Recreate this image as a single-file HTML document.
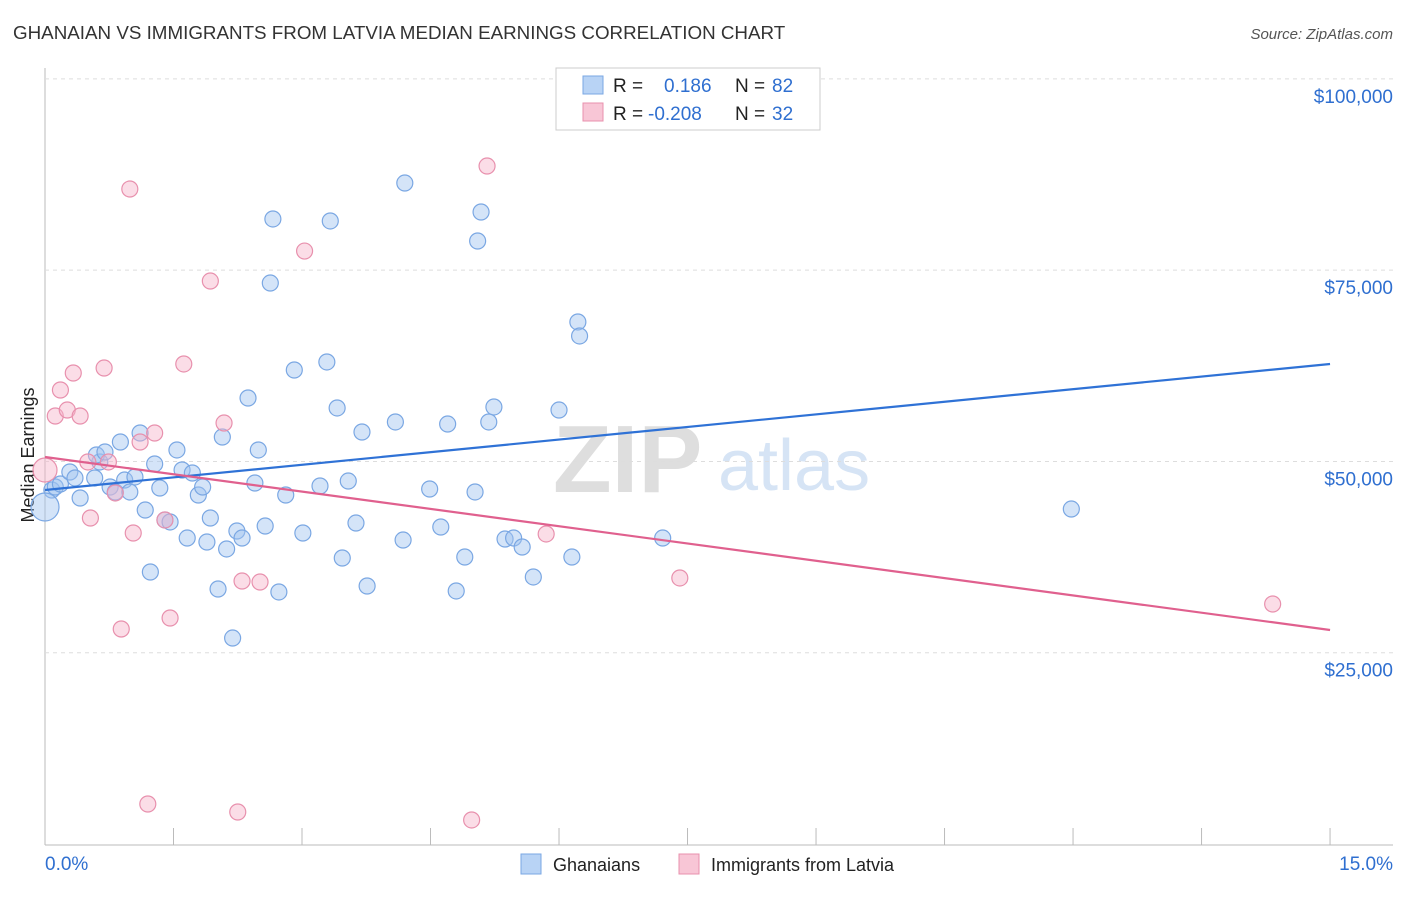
<!DOCTYPE html>
<html><head><meta charset="utf-8"><style>
body{margin:0;background:#fff;font-family:"Liberation Sans",sans-serif;}
svg text{font-family:"Liberation Sans",sans-serif;}
</style></head><body>
<svg id="chart" width="1406" height="892">
<text x="13" y="39" font-size="18.8" fill="#333">GHANAIAN VS IMMIGRANTS FROM LATVIA MEDIAN EARNINGS CORRELATION CHART</text>
<text x="1393" y="39" font-size="15" fill="#555" font-style="italic" text-anchor="end">Source: ZipAtlas.com</text>
<text x="553" y="492" font-size="96" fill="#dedede" font-family="Liberation Serif" font-weight="bold">ZIP</text>
<text x="718" y="490" font-size="72" fill="#d6e4f5">atlas</text>
<text x="34" y="455" font-size="18" fill="#222" text-anchor="middle" transform="rotate(-90 34 455)">Median Earnings</text>
<g id="grid"></g><g id="pts"></g><g id="lines"></g>
<g>
<rect x="556" y="68" width="264" height="62" fill="#fff" stroke="#ccc"/>
<rect x="583" y="76" width="20" height="18" fill="#b8d3f5" stroke="#7aa7e3"/>
<text x="613" y="92" font-size="19" fill="#222">R =</text><text x="664" y="92" font-size="19" fill="#2f6fd0">0.186</text>
<text x="735" y="92" font-size="19" fill="#222">N =</text><text x="772" y="92" font-size="19" fill="#2f6fd0">82</text>
<rect x="583" y="103" width="20" height="18" fill="#f8c6d6" stroke="#e890ad"/>
<text x="613" y="120" font-size="19" fill="#222">R =</text><text x="648" y="120" font-size="19" fill="#2f6fd0">-0.208</text>
<text x="735" y="120" font-size="19" fill="#222">N =</text><text x="772" y="120" font-size="19" fill="#2f6fd0">32</text>
</g>
<g>
<rect x="521" y="854" width="20" height="20" fill="#b8d3f5" stroke="#7aa7e3"/>
<text x="553" y="871" font-size="18" fill="#222">Ghanaians</text>
<rect x="679" y="854" width="20" height="20" fill="#f8c6d6" stroke="#e890ad"/>
<text x="711" y="871" font-size="18" fill="#222">Immigrants from Latvia</text>
</g>
</svg>
<script>
const blueX=[0.08,0,0.12,0.18,0.29,0.35,0.41,0.58,0.64,0.60,0.70,0.76,0.82,0.88,0.93,0.99,1.05,1.11,1.17,1.23,1.28,1.34,1.40,1.46,1.54,1.60,1.66,1.72,1.79,1.84,1.93,1.89,2.02,2.07,2.12,2.19,2.24,2.30,2.37,2.45,2.49,2.57,2.63,2.66,2.73,2.81,2.91,3.01,3.21,3.29,3.33,3.41,3.47,3.54,3.63,3.70,3.76,4.09,4.18,4.20,4.49,4.62,4.70,4.80,4.90,5.02,5.05,5.09,5.18,5.24,5.37,5.47,5.57,5.70,6.00,6.15,6.22,6.24,6.92,7.21,11.98];
const blueY=[46270,44050,46660,47050,48620,47840,45220,47840,49930,50840,51230,46660,46010,52540,47570,46010,47970,53720,43650,35550,49670,46530,42350,42090,51500,48880,39990,48490,45610,46660,42610,39470,33330,53190,38560,26920,40910,39990,58290,47180,51500,41560,73320,81690,32940,45610,61950,40650,46790,63000,81430,56990,37380,47440,41950,53850,33720,55160,39730,86390,46400,41430,54890,33070,37510,46010,78810,82600,55160,57120,39860,39990,38820,34900,56720,37510,68230,66400,95150,39990,43780];
const pinkX=[0,0.12,0.18,0.26,0.33,0.41,0.53,0.50,0.69,0.74,0.82,0.89,0.99,1.03,1.11,1.20,1.28,1.40,1.46,1.62,1.93,2.09,2.25,2.30,2.51,3.03,4.98,5.16,5.85,7.41,14.33];
const pinkY=[48880,55940,59340,56720,61560,55940,42610,49930,62210,49930,45880,28100,85610,40650,52540,5230,53720,42350,29540,62740,73580,55020,4180,34370,34240,77500,3140,88610,40520,34770,31370];
const blueTrend=[46270,62740];
const pinkTrend=[50580,27970];
const yTicks=[25000,50000,75000,100000];
const yTickLabels=["$25,000","$50,000","$75,000","$100,000"];
const xTicks=[0,1.5,3,4.5,6,7.5,9,10.5,12,13.5,15];
const xs=v=>45+v*85.67, ys=v=>844-v/130.7;
const NS="http://www.w3.org/2000/svg";
function mk(t,a,p){const e=document.createElementNS(NS,t);for(const k in a)e.setAttribute(k,a[k]);p.appendChild(e);return e;}
const g=document.getElementById('grid');
let ax=mk('line',{x1:45,y1:845,x2:1393,y2:845,stroke:'#bbb'},g);


let ay=mk('line',{x1:45,y1:68,x2:45,y2:845,stroke:'#bbb'},g);


yTicks.forEach((v,i)=>{
 const l=mk('line',{x1:45,y1:ys(v),x2:1393,y2:ys(v),stroke:'#ddd','stroke-dasharray':'4 4'},g);
 
 
 const t=mk('text',{x:1393,y:ys(v)+24,'font-size':19,fill:'#2f6fd0','text-anchor':'end'},g);t.textContent=yTickLabels[i];
 
 
});
xTicks.forEach(v=>{
 const l=mk('line',{x1:xs(v),y1:828,x2:xs(v),y2:845,stroke:'#bbb'},g);
 
 
});
let t0=mk('text',{x:45,y:870,'font-size':19,fill:'#2f6fd0'},g);t0.textContent='0.0%';


let t1=mk('text',{x:1393,y:870,'font-size':19,fill:'#2f6fd0','text-anchor':'end'},g);t1.textContent='15.0%';


const P=document.getElementById('pts');
blueX.forEach((x,i)=>{
 const c=mk('circle',{cx:xs(x),cy:ys(blueY[i]),r:(i==1?14:8),fill:'rgba(160,196,240,0.45)',stroke:'#7aa7e3','stroke-width':1.2},P);
 
 
});
pinkX.forEach((x,i)=>{
 const c=mk('circle',{cx:xs(x),cy:ys(pinkY[i]),r:(i==0?12:8),fill:'rgba(246,180,202,0.45)',stroke:'#e890ad','stroke-width':1.2},P);
 
 
});
const L=document.getElementById('lines');
let bl=mk('line',{x1:xs(0),y1:ys(blueTrend[0]),x2:xs(15),y2:ys(blueTrend[1]),stroke:'#2f72d6','stroke-width':2.2},L);


let pl=mk('line',{x1:xs(0),y1:ys(pinkTrend[0]),x2:xs(15),y2:ys(pinkTrend[1]),stroke:'#e0608e','stroke-width':2.2},L);


</script>
</body></html>
